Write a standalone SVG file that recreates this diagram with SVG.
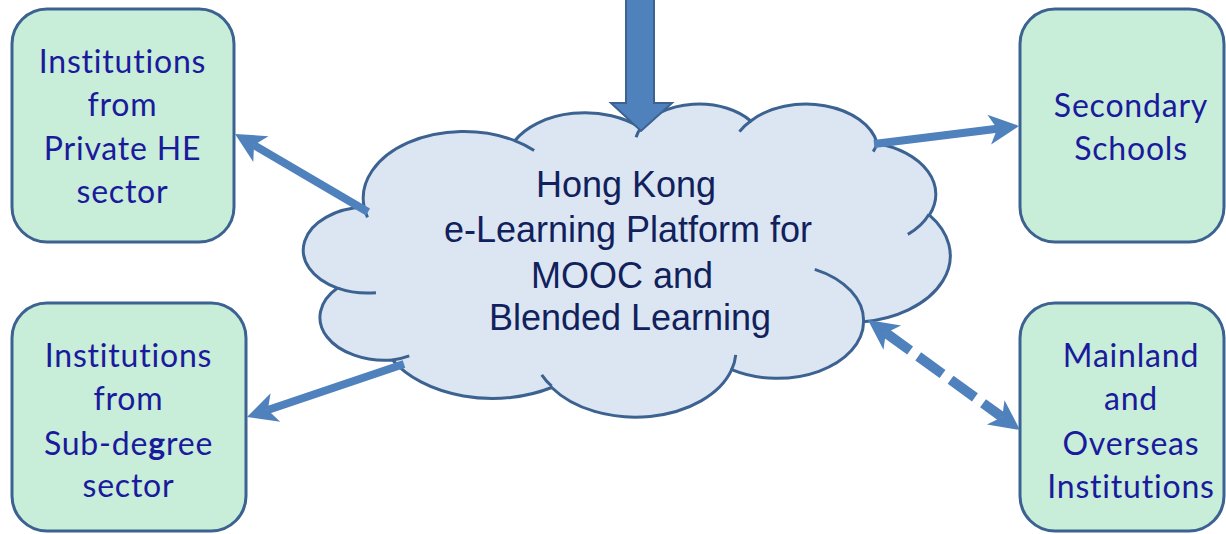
<svg xmlns="http://www.w3.org/2000/svg" width="1226" height="534" viewBox="0 0 1226 534">
  <style>
    .box { fill: #c8edd8; stroke: #3c6291; stroke-width: 3; }
    .boxtxt { font-family: Lato, "Open Sans", sans-serif; font-size: 32px; letter-spacing: 0.8px; fill: #1a1a9c; text-anchor: middle; }
    .cloud { fill: #dce6f2; stroke: #3c6291; stroke-width: 3; vector-effect: non-scaling-stroke; }
    .crease { fill: none; stroke: #3c6291; stroke-width: 3; vector-effect: non-scaling-stroke; }
    .cloudtxt { font-family: "Liberation Sans", Arial, sans-serif; font-size: 36px; fill: #10215c; text-anchor: middle; }
    .conn { fill: none; stroke: #4f81bd; stroke-width: 8; }
    .dash { fill: none; stroke: #4f81bd; stroke-width: 10; stroke-dasharray: 30 10; }
    .block { fill: #4f81bd; stroke: #3c6291; stroke-width: 2; }
  </style>
  <defs>
    <marker id="head" markerUnits="userSpaceOnUse" markerWidth="60" markerHeight="60" refX="0" refY="0" orient="auto-start-reverse" overflow="visible">
      <path d="M 22 0 L -8 -15 L 0 0 L -8 15 Z" fill="#4f81bd"/>
    </marker>
  </defs>

  <g id="node-cloud">
    <g transform="translate(306,103) scale(0.014907,0.0072454)">
      <path class="cloud" d="M 3900 14370 A 6753 9190 0 0 1 14005 5203 A 5333 7267 0 0 1 22457 3435 A 4365 5945 0 0 1 29834 2485 A 4857 6595 0 0 1 38320 5578 A 5333 7273 0 0 1 41820 15461 A 6775 9220 0 0 1 37405 30202 A 5785 7867 0 0 1 28556 36812 A 6752 9215 0 0 1 16481 39264 A 7720 10543 0 0 1 5804 35470 A 4360 5918 0 0 1 2113 25547 A 4345 5945 0 0 1 3900 14370 Z"/>
      <path class="crease" d="M 4693 26177 A 4345 5945 0 0 1 2113 25547 M 6928 34899 A 4360 5918 0 0 1 5804 35470 M 16478 39090 A 6752 9215 0 0 1 15813 37524 M 28827 34751 A 6752 9215 0 0 1 28556 36812 M 34129 22954 A 5785 7867 0 0 1 37405 30202 M 41798 15354 A 5333 7273 0 0 1 40373 18137 M 38324 5426 A 4857 6595 0 0 1 38051 6715 M 29078 3952 A 4857 6595 0 0 1 29834 2485 M 22141 4720 A 4365 5945 0 0 1 22457 3435 M 14000 5192 A 6753 9190 0 0 1 15305 6552 M 4127 15789 A 6753 9190 0 0 1 3900 14370"/>
    </g>
    <text class="cloudtxt" x="626" y="197">Hong Kong</text>
    <text class="cloudtxt" x="628" y="242">e-Learning Platform for</text>
    <text class="cloudtxt" x="622" y="288">MOOC and</text>
    <text class="cloudtxt" x="630" y="330">Blended Learning</text>
  </g>

  <g id="node-private-he">
    <rect class="box" x="12" y="9" width="222" height="233" rx="35" ry="35"/>
    <text class="boxtxt" x="122.5" y="72.5">Institutions</text>
    <text class="boxtxt" x="122.5" y="116">from</text>
    <text class="boxtxt" x="122.5" y="160">Private HE</text>
    <text class="boxtxt" x="122.5" y="203">sector</text>
  </g>

  <g id="node-subdegree">
    <rect class="box" x="12" y="303" width="234" height="228" rx="35" ry="35"/>
    <text class="boxtxt" x="128.5" y="367">Institutions</text>
    <text class="boxtxt" x="128.5" y="410">from</text>
    <text class="boxtxt" x="128.5" y="455">Sub-de<tspan font-weight="bold">g</tspan>ree</text>
    <text class="boxtxt" x="128.5" y="497">sector</text>
  </g>

  <g id="node-secondary">
    <rect class="box" x="1020" y="9" width="204" height="233" rx="35" ry="35"/>
    <text class="boxtxt" x="1131" y="117">Secondary</text>
    <text class="boxtxt" x="1131" y="160">Schools</text>
  </g>

  <g id="node-mainland">
    <rect class="box" x="1020" y="303" width="204" height="228" rx="35" ry="35"/>
    <text class="boxtxt" x="1131" y="367">Mainland</text>
    <text class="boxtxt" x="1131" y="410">and</text>
    <text class="boxtxt" x="1131" y="455">Overseas</text>
    <text class="boxtxt" x="1131" y="498">Institutions</text>
  </g>

  <g id="connectors">
    <polygon class="block" points="626,-3 654,-3 654,103 672,103 641,131 611,103 626,103"/>
    <line class="conn" x1="368" y1="212" x2="254" y2="145.1" marker-end="url(#head)"/>
    <line class="conn" x1="404" y1="364" x2="267.8" y2="410" marker-end="url(#head)"/>
    <line class="conn" x1="874" y1="144" x2="997.2" y2="128.7" marker-end="url(#head)"/>
    <line class="dash" x1="885.8" y1="332.9" x2="1002.2" y2="417.1" marker-start="url(#head)" marker-end="url(#head)"/>
  </g>
</svg>
